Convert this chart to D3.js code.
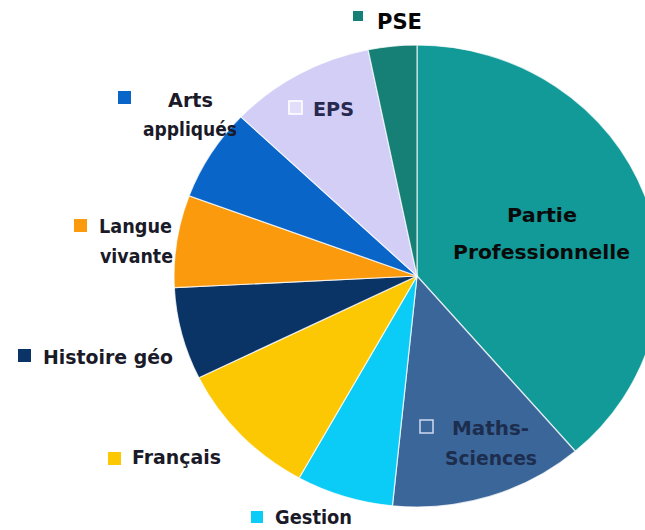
<!DOCTYPE html>
<html>
<head>
<meta charset="utf-8">
<script src="https://cdn.jsdelivr.net/npm/d3@7/dist/d3.min.js"></script>
<style>
  html, body { margin: 0; padding: 0; background: #ffffff; }
  svg { display: block; }
  text { font-family: "DejaVu Sans", "Noto Sans", sans-serif; }
</style>
</head>
<body>
<svg id="chart" width="645" height="530"></svg>
<script>
// ---- data (weekly hours per subject) ----
const categories = ["Partie Professionnelle", "Maths-Sciences", "Gestion", "Français",
                    "Histoire géo", "Langue vivante", "Arts appliqués", "EPS", "PSE"];
const hours = [12, 4, 2, 3, 2, 2, 2, 3, 1];
const colors = ["#129a98", "#3b6699", "#0bcbf7", "#fcc803",
                "#0a3466", "#fa9a0c", "#0a65c8", "#d2cef6", "#168076"];

// ---- label layout (text only) ----
const labelLines = [
  ["Partie", "Professionnelle"],
  ["Maths-", "Sciences"],
  ["Gestion"],
  ["Français"],
  ["Histoire géo"],
  ["Langue", "vivante"],
  ["Arts", "appliqués"],
  ["EPS"],
  ["PSE"]
];
const labelLayout = [
  {x: [542, 541.5], y: [222, 259], w: [70, 177], anchor: "middle", fill: "#0a0a0a", weight: "bold", size: 20, marker: null},
  {x: [452, 445], y: [435, 465], w: [77, 92], anchor: "start", fill: "#1c2d4e", weight: "600", size: 20, marker: {x: 420, y: 420, s: 13, outline: true, stroke: "#c9d3ea", fillc: "none"}},
  {x: [275], y: [524], w: [77], anchor: "start", fill: "#1a1a28", weight: "bold", size: 19, marker: {x: 251, y: 511, s: 12}},
  {x: [132], y: [464], w: [89], anchor: "start", fill: "#1a1a28", weight: "bold", size: 20, marker: {x: 108, y: 452, s: 13}},
  {x: [43], y: [364], w: [130], anchor: "start", fill: "#1a1a28", weight: "bold", size: 20, marker: {x: 18, y: 349, s: 13}},
  {x: [99, 100], y: [233, 263], w: [73, 73], anchor: "start", fill: "#1a1a28", weight: "bold", size: 20, marker: {x: 74, y: 219, s: 13}},
  {x: [168, 143], y: [107, 136], w: [45, 94], anchor: "start", fill: "#1a1a28", weight: "bold", size: 20, marker: {x: 118, y: 91, s: 13}},
  {x: [313], y: [116], w: [41], anchor: "start", fill: "#27294f", weight: "600", size: 20, marker: {x: 289, y: 101, s: 13, outline: true, stroke: "#ffffff", fillc: "#e2def9"}},
  {x: [377], y: [29], w: [45], anchor: "start", fill: "#050505", weight: "bold", size: 21, marker: {x: 353, y: 11, s: 10}}
];

const svg = d3.select("#chart");
const cx = 417, cy = 276, ry = 231, rx = 243;

const data = categories.map((c, i) => ({name: c, value: hours[i], color: colors[i], i}));

const pie = d3.pie().sort(null).value(d => d.value);
const arc = d3.arc().innerRadius(0).outerRadius(ry);

const g = svg.append("g")
  .attr("transform", `translate(${cx},${cy}) scale(${rx / ry},1)`);

g.selectAll("path")
  .data(pie(data))
  .join("path")
  .attr("d", arc)
  .attr("fill", d => d.data.color)
  .attr("stroke", "rgba(255,255,255,0.75)")
  .attr("stroke-width", 1.2)
  .attr("vector-effect", "non-scaling-stroke");

// labels
const lg = svg.append("g");
data.forEach((d, i) => {
  const L = labelLayout[i];
  if (L.marker) {
    const m = L.marker;
    lg.append("rect")
      .attr("x", m.x).attr("y", m.y)
      .attr("width", m.s).attr("height", m.s)
      .attr("fill", m.outline ? m.fillc : d.color)
      .attr("stroke", m.outline ? m.stroke : "none")
      .attr("stroke-width", m.outline ? 1.6 : 0);
  }
  labelLines[i].forEach((line, k) => {
    lg.append("text")
      .attr("x", L.x[k])
      .attr("y", L.y[k])
      .attr("text-anchor", L.anchor)
      .attr("font-size", L.size)
      .attr("font-weight", L.weight)
      .attr("fill", L.fill)
      .attr("textLength", L.w[k])
      .attr("lengthAdjust", "spacingAndGlyphs")
      .text(line);
  });
});
</script>
</body>
</html>
